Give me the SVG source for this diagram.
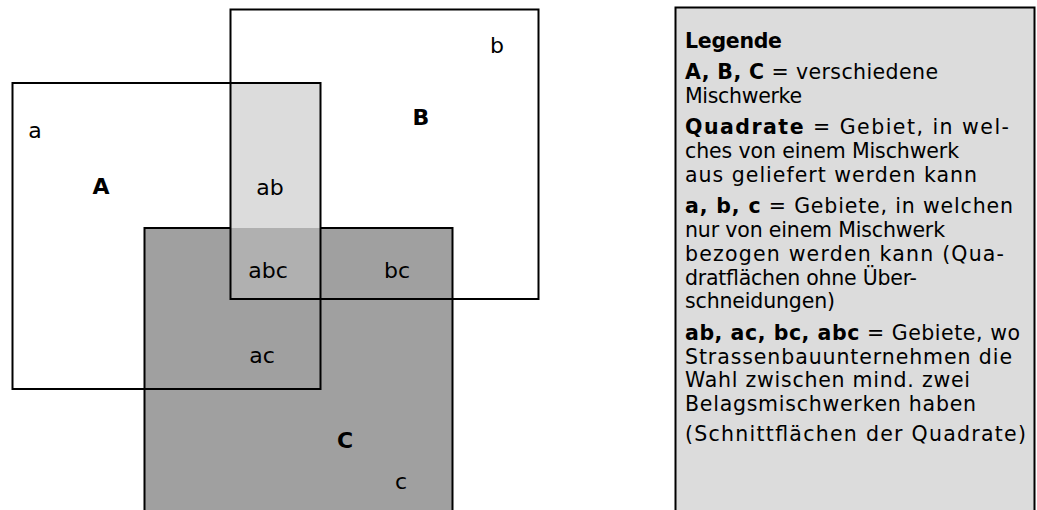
<svg xmlns="http://www.w3.org/2000/svg" width="1037" height="510" viewBox="0 0 1037 510">
<style>
.t{font-family:"DejaVu Sans","Liberation Sans",sans-serif;font-size:22px;fill:#000}
.b{font-weight:bold}
.box{fill:none;stroke:#000;stroke-width:2}
.lg{font-family:"DejaVu Sans","Liberation Sans",sans-serif;font-size:20.5px;fill:#000}
</style>
<rect width="1037" height="510" fill="#fff"/>
<g id="C">
<rect x="144.5" y="228" width="308" height="290" fill="#a0a0a0" stroke="#000" stroke-width="2"/>
</g>
<g id="ab">
<rect x="230.5" y="83" width="90" height="145" fill="#dcdcdc"/>
</g>
<g id="abc">
<rect x="230.5" y="228" width="90" height="71" fill="#b0b0b0"/>
</g>
<g id="A">
<rect class="box" x="12.5" y="83" width="308" height="306"/>
</g>
<g id="B">
<rect class="box" x="230.5" y="9.5" width="308" height="289.5"/>
</g>
<g id="labels">
<text class="t" x="35" y="138" text-anchor="middle">a</text>
<text class="t b" x="101" y="194" text-anchor="middle">A</text>
<text class="t" x="270" y="195" text-anchor="middle">ab</text>
<text class="t" x="497" y="53" text-anchor="middle">b</text>
<text class="t b" x="421" y="125" text-anchor="middle">B</text>
<text class="t" x="268" y="278" text-anchor="middle">abc</text>
<text class="t" x="397" y="278" text-anchor="middle">bc</text>
<text class="t" x="262" y="363" text-anchor="middle">ac</text>
<text class="t b" x="345" y="448" text-anchor="middle">C</text>
<text class="t" x="401" y="489" text-anchor="middle">c</text>
</g>
<g id="legend">
<rect x="675.5" y="7.5" width="359" height="520" fill="#dcdcdc" stroke="#000" stroke-width="2"/>
<text class="lg b" x="685" y="48" textLength="97" lengthAdjust="spacing">Legende</text>
<text class="lg" x="685" y="79" textLength="253" lengthAdjust="spacing"><tspan class="b">A, B, C</tspan> = verschiedene</text>
<text class="lg" x="685" y="103" textLength="117" lengthAdjust="spacing">Mischwerke</text>
<text class="lg" x="685" y="134" textLength="324" lengthAdjust="spacing"><tspan class="b">Quadrate</tspan> = Gebiet, in wel-</text>
<text class="lg" x="685" y="158" textLength="274" lengthAdjust="spacing">ches von einem Mischwerk</text>
<text class="lg" x="685" y="182" textLength="292" lengthAdjust="spacing">aus geliefert werden kann</text>
<text class="lg" x="685" y="213" textLength="328" lengthAdjust="spacing"><tspan class="b">a, b, c</tspan> = Gebiete, in welchen</text>
<text class="lg" x="685" y="237" textLength="260" lengthAdjust="spacing">nur von einem Mischwerk</text>
<text class="lg" x="685" y="261" textLength="319" lengthAdjust="spacing">bezogen werden kann (Qua-</text>
<text class="lg" x="685" y="285" textLength="232" lengthAdjust="spacing">dratflächen ohne Über-</text>
<text class="lg" x="685" y="308" textLength="150" lengthAdjust="spacing">schneidungen)</text>
<text class="lg" x="685" y="340" textLength="335" lengthAdjust="spacing"><tspan class="b">ab, ac, bc, abc</tspan> = Gebiete, wo</text>
<text class="lg" x="685" y="364" textLength="327" lengthAdjust="spacing">Strassenbauunternehmen die</text>
<text class="lg" x="685" y="387" textLength="285" lengthAdjust="spacing">Wahl zwischen mind. zwei</text>
<text class="lg" x="685" y="411" textLength="291" lengthAdjust="spacing">Belagsmischwerken haben</text>
<text class="lg" x="685" y="441" textLength="341" lengthAdjust="spacing">(Schnittflächen der Quadrate)</text>
</g>
</svg>
